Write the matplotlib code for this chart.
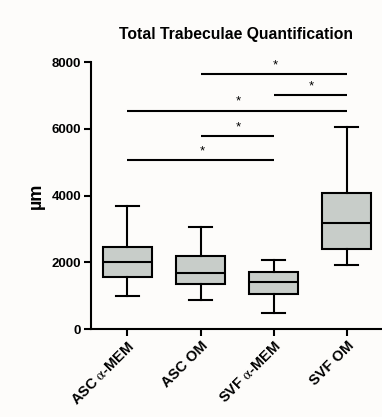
import numpy as np
import matplotlib
matplotlib.use('Agg')
import matplotlib.pyplot as plt

plt.rcParams['font.family'] = ['Liberation Sans', 'DejaVu Sans']
plt.rcParams['mathtext.fontset'] = 'stix'

# Data
groups = ['ASC $\\mathrm{\\alpha}$-MEM', 'ASC OM', 'SVF $\\mathrm{\\alpha}$-MEM', 'SVF OM']
whis_lo = [990, 870, 470, 1910]
q1 = [1550, 1350, 1040, 2410]
med = [2000, 1680, 1420, 3170]
q3 = [2470, 2180, 1700, 4090]
whis_hi = [3680, 3050, 2080, 6050]

# significance brackets: (from group, to group, height)
sig_from = [2, 3, 1, 2, 1]
sig_to = [4, 4, 4, 3, 3]
sig_y = [7640, 7000, 6540, 5780, 5060]

bg = '#fdfcfa'
fig = plt.figure(figsize=(3.82, 4.17), dpi=100, facecolor=bg)
ax = fig.add_axes([0.238, 0.211, 0.765, 0.640], facecolor=bg)

stats = []
for i in range(len(groups)):
    stats.append({'med': med[i], 'q1': q1[i], 'q3': q3[i],
                  'whislo': whis_lo[i], 'whishi': whis_hi[i], 'fliers': []})

lw = 1.5
ax.bxp(stats, positions=range(1, 5), widths=0.67, patch_artist=True,
       showfliers=False,
       boxprops=dict(facecolor='#c8cdc9', edgecolor='black', linewidth=lw),
       medianprops=dict(color='black', linewidth=lw),
       whiskerprops=dict(color='black', linewidth=lw),
       capprops=dict(color='black', linewidth=lw),
       capwidths=0.32)

for a, b, h in zip(sig_from, sig_to, sig_y):
    ax.plot([a, b], [h, h], color='black', linewidth=lw, solid_capstyle='butt', clip_on=False)
    ax.text((a + b) / 2 + 0.02, h + 90, '*', ha='center', va='bottom',
            fontsize=9.5)

ax.set_xlim(0.5, 4.5)
ax.set_ylim(0, 8000)
ax.set_yticks([0, 2000, 4000, 6000, 8000])
ax.set_xticks(range(1, 5))
ax.set_xticklabels(groups, rotation=45, ha='right', rotation_mode='anchor',
                   fontsize=10.5, fontweight='bold')
for lab in ax.get_yticklabels():
    lab.set_fontsize(9.5)
    lab.set_fontweight('bold')

ax.spines['top'].set_visible(False)
ax.spines['right'].set_visible(False)
ax.spines['left'].set_linewidth(lw)
ax.spines['bottom'].set_linewidth(lw)
ax.tick_params(width=lw, length=5, pad=2)

ax.set_ylabel('µm', fontsize=13, fontweight='bold', labelpad=5)
fig.text(0.617, 0.918, 'Total Trabeculae Quantification', ha='center', va='center',
         fontsize=11.3, fontweight='bold')

fig.savefig('out.png', dpi=100, facecolor=bg)
